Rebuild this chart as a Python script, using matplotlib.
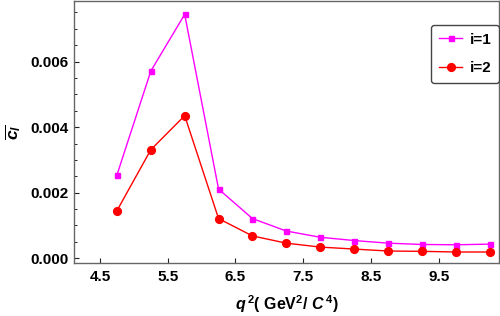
import matplotlib
matplotlib.use("Agg")
import matplotlib.pyplot as plt
from matplotlib.ticker import MultipleLocator

# q^2 bin centres and the two series
q2 = [4.75, 5.25, 5.75, 6.25, 6.75, 7.25, 7.75, 8.25, 8.75, 9.25, 9.75, 10.25]
c_i1 = [0.00254, 0.00571, 0.00744, 0.00211, 0.00121, 0.00083,
        0.00064, 0.00054, 0.00046, 0.00042, 0.00041, 0.00043]
c_i2 = [0.00145, 0.00331, 0.00435, 0.00121, 0.00068, 0.00046,
        0.00034, 0.00028, 0.00022, 0.00021, 0.00019, 0.00019]
x_ticks = [4.5, 5.5, 6.5, 7.5, 8.5, 9.5]
y_ticks = [0.000, 0.002, 0.004, 0.006]

plt.rcParams['font.family'] = ['Liberation Sans', 'DejaVu Sans']
plt.rcParams['font.weight'] = 'bold'
plt.rcParams['axes.labelweight'] = 'bold'
plt.rcParams['mathtext.fontset'] = 'custom'
plt.rcParams['mathtext.rm'] = 'Liberation Sans:bold'
plt.rcParams['mathtext.it'] = 'Liberation Sans:italic:bold'
plt.rcParams['mathtext.bf'] = 'Liberation Sans:bold'

fig = plt.figure(figsize=(5, 3.16), dpi=100)
ax = fig.add_axes([0.148, 0.168, 0.850, 0.829])

ax.plot(q2, c_i1, marker='s', linestyle='-', color='#ff00ff', markersize=3.6,
        linewidth=1.0, label='i=1')
ax.plot(q2, c_i2, marker='o', linestyle='-', color='#ff0000', markersize=5.6,
        linewidth=1.0, label='i=2')

ax.set_xlim(4.116, 10.39)
ax.set_ylim(-0.000143, 0.00785)
ax.set_xticks(x_ticks)
ax.set_xticklabels([f"{v:.1f}" for v in x_ticks], fontweight='bold')
ax.set_yticks(y_ticks)
ax.set_yticklabels([f"{v:.3f}" for v in y_ticks], fontweight='bold')
ax.yaxis.set_minor_locator(MultipleLocator(0.0005))

ax.tick_params(axis='both', which='major', direction='in', length=3.5, width=0.8,
               labelsize=11, color='#222222')
ax.tick_params(axis='x', which='major', pad=5)
ax.tick_params(axis='y', which='major', pad=4)
ax.tick_params(axis='y', which='minor', direction='in', length=2.2, width=0.7,
               color='#222222')
for sp in ax.spines.values():
    sp.set_color('#666666')
    sp.set_linewidth(1.0)

ax.set_xlabel(r'$q^{\,2}$( GeV$^2$/ $C^{\,4}$)', fontsize=11.5, labelpad=7)
ax.set_ylabel(r'$\overline{c_l}$', fontsize=12.5, labelpad=5)

leg = ax.legend(loc='upper right', bbox_to_anchor=(1.0, 0.908), borderaxespad=0,
                prop={'size': 11, 'weight': 'bold'}, handlelength=1.5,
                handletextpad=0.5, borderpad=0.5, labelspacing=0.95,
                fancybox=True, framealpha=1)
leg.get_frame().set_edgecolor('#444444')
leg.get_frame().set_linewidth(1.0)

plt.savefig("out.png", dpi=100)
